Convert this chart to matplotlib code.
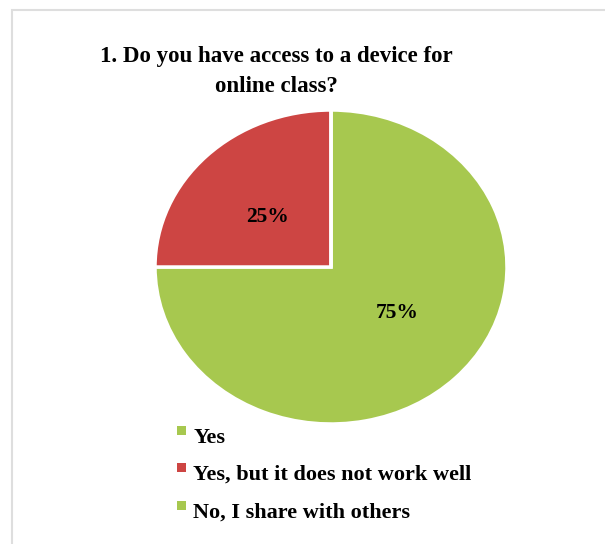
import matplotlib.pyplot as plt
from matplotlib.patches import Rectangle
from matplotlib.legend_handler import HandlerPatch

labels = ["Yes", "Yes, but it does not work well", "No, I share with others"]
values = [75, 25, 0]
colors = ["#A7C84F", "#CD4543", "#A7C84F"]

W, H = 605, 544
fig = plt.figure(figsize=(W / 100, H / 100), dpi=100)
plt.rcParams['font.family'] = ['Liberation Serif', 'DejaVu Serif']

# chart area frame (gray border, runs off right/bottom)
fig.add_artist(Rectangle((12 / W, -0.1), 1.2, (H - 10) / H + 0.1,
                         transform=fig.transFigure, fill=False,
                         edgecolor="#dedede", lw=1.5))

# pie is slightly wider than tall -> axes sized to the ellipse box
ax = fig.add_axes([155 / W, (H - 424) / H, 352 / W, 314 / H])


def pct(p):
    return f"{p:.0f}%" if p > 0 else ""


wedges, texts, autotexts = ax.pie(values, colors=colors, startangle=90,
                                  counterclock=False, autopct=pct,
                                  pctdistance=0.5,
                                  wedgeprops=dict(edgecolor="white", linewidth=2.5),
                                  textprops=dict(fontsize=15.5, fontweight="bold"))
ax.set_aspect("auto")
ax.set_xlim(-1.0, 1.0)
ax.set_ylim(-1.0, 1.0)
# excel's "best fit" label spots
autotexts[0].set_position((0.375, -0.29))
autotexts[1].set_position((-0.36, 0.32))

fig.text(276 / W, 1 - 92 / H, "1. Do you have access to a device for\nonline class?",
         ha="center", va="baseline", fontsize=16.5, fontweight="bold",
         linespacing=1.55, multialignment="center")


# square markers sit a bit above the text centre, like excel
def raised_square(legend, orig_handle, xdescent, ydescent, width, height, fontsize):
    return Rectangle((-xdescent, -ydescent + height - width + 1), width, width)


handles = [Rectangle((0, 0), 1, 1, facecolor=c, edgecolor="none") for c in colors]
leg = fig.legend(handles, labels, loc="upper left",
                 bbox_to_anchor=(177 / W, 1 - 427 / H), frameon=False,
                 borderpad=0, borderaxespad=0,
                 handlelength=0.42, handleheight=0.7, handletextpad=0.32,
                 labelspacing=0.76, prop=dict(size=16, weight="bold"),
                 handler_map={Rectangle: HandlerPatch(patch_func=raised_square)})

fig.savefig("out.png", dpi=100, facecolor="white")
